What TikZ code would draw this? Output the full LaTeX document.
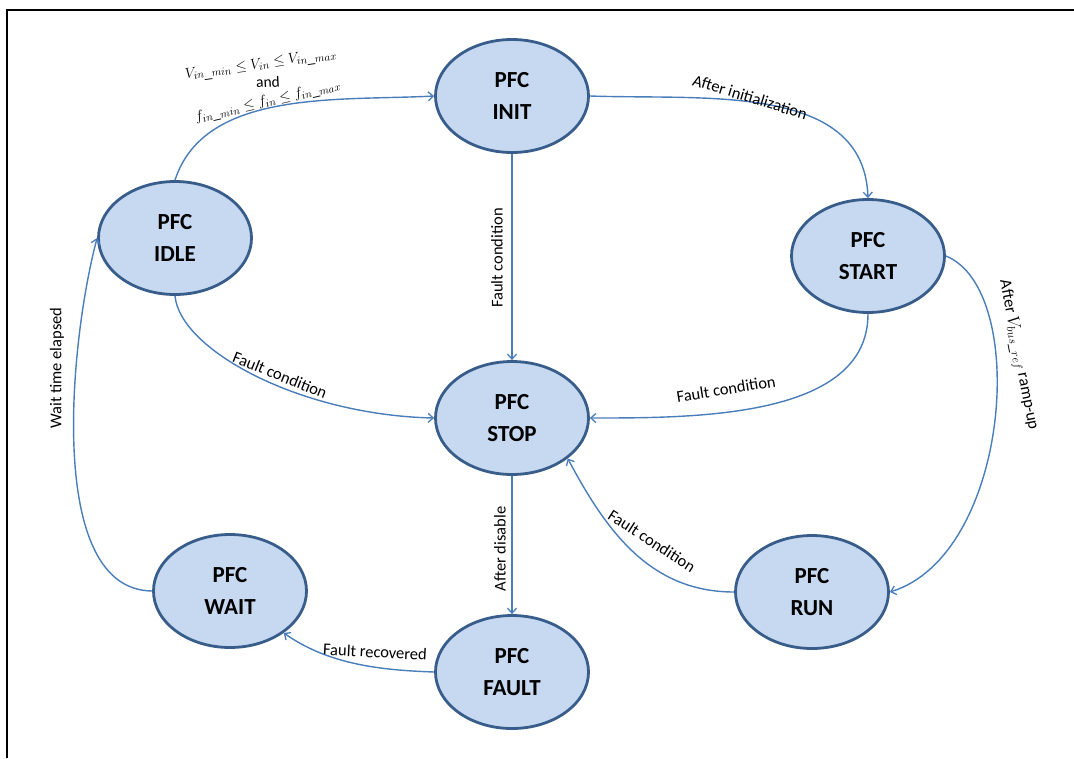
\documentclass[tikz,border=0pt]{standalone}
\usepackage{fontspec}
\setmainfont{Carlito}
\usetikzlibrary{shapes.geometric,arrows.meta}
\definecolor{statefill}{HTML}{C6D9F1}
\definecolor{stateline}{HTML}{385D8A}
\definecolor{edgeblue}{HTML}{4A7EBB}
\begin{document}
\begin{tikzpicture}[x=1pt,y=1pt,
  state/.style={ellipse, draw=stateline, line width=2.8pt, fill=statefill,
    minimum width=153pt, minimum height=113pt, inner sep=0pt, align=center,
    font=\fontsize{23}{32}\selectfont\bfseries},
  trans/.style={draw=edgeblue, line width=1.4pt,
    -{Straight Barb[length=5pt,width=9pt,line width=1.3pt]}},
  lbl/.style={font=\fontsize{16.5}{19}\selectfont, inner sep=1pt},
  mlbl/.style={font=\fontsize{15.5}{19}\selectfont, inner sep=1pt}]
\useasboundingbox (0,0) rectangle (1074,-758);
% page frame
\draw[line width=2pt] (7,-758) -- (7,-10) -- (1074,-10);

% states
\node[state] (init)  at (512,-96)  {PFC\\INIT};
\node[state] (idle)  at (175,-238) {PFC\\IDLE};
\node[state] (start) at (868,-256) {PFC\\START};
\node[state] (stop)  at (512,-418) {PFC\\STOP};
\node[state] (wait)  at (230,-591) {PFC\\WAIT};
\node[state] (run)   at (812,-592) {PFC\\RUN};
\node[state] (fault) at (512,-672) {PFC\\FAULT};

% transitions
\draw[trans] (idle.north) to[out=72,in=183,looseness=0.9] (init.west);
\draw[trans] (init.east) to[out=-2,in=92,looseness=1.0] (start.north);
\draw[trans] (init.south) -- (stop.north);
\draw[trans] (start.east) .. controls (1030,-290) and (1010,-555) .. (run.east);
\draw[trans] (start.south) to[out=-90,in=0,looseness=0.9] (stop.east);
\draw[trans] (idle.south) .. controls (180,-350) and (300,-415) .. (stop.west);
\draw[trans] (stop.south) -- (fault.north);
\draw[trans] (run.west) to[out=180,in=-62,looseness=1.0] (stop.-36);
\draw[trans] (fault.west) to[out=178,in=-35,looseness=0.9] (wait.-38);
\draw[trans] (wait.west) .. controls (45,-590) and (70,-340) .. (idle.west);

% transition labels
\node[mlbl, rotate=8]  (c1) at (261,-65) {$V_{in\_min}\le V_{in}\le V_{in\_max}$};
\node[mlbl, rotate=3]  (c2) at (268,-82) {and};
\node[mlbl, rotate=13] (c3) at (268,-102) {$f_{in\_min}\le f_{in}\le f_{in\_max}$};
\node[lbl, rotate=-17] (l1) at (750,-97) {After initialization};
\node[lbl, rotate=90] (l2) at (497,-258) {Fault condition};
\node[lbl, rotate=-79] (l3) at (1018,-355) {After $V_{bus\_ref}$ ramp-up};
\node[lbl, rotate=9] (l4) at (726,-389) {Fault condition};
\node[lbl, rotate=-22] (l5) at (280,-375) {Fault condition};
\node[lbl, rotate=90] (l6) at (500,-549) {After disable};
\node[lbl, rotate=-33] (l7) at (652,-541) {Fault condition};
\node[lbl, rotate=-3] (l8) at (375,-652) {Fault recovered};
\node[lbl, rotate=90] (l9) at (57,-368) {Wait time elapsed};
\end{tikzpicture}
\end{document}
